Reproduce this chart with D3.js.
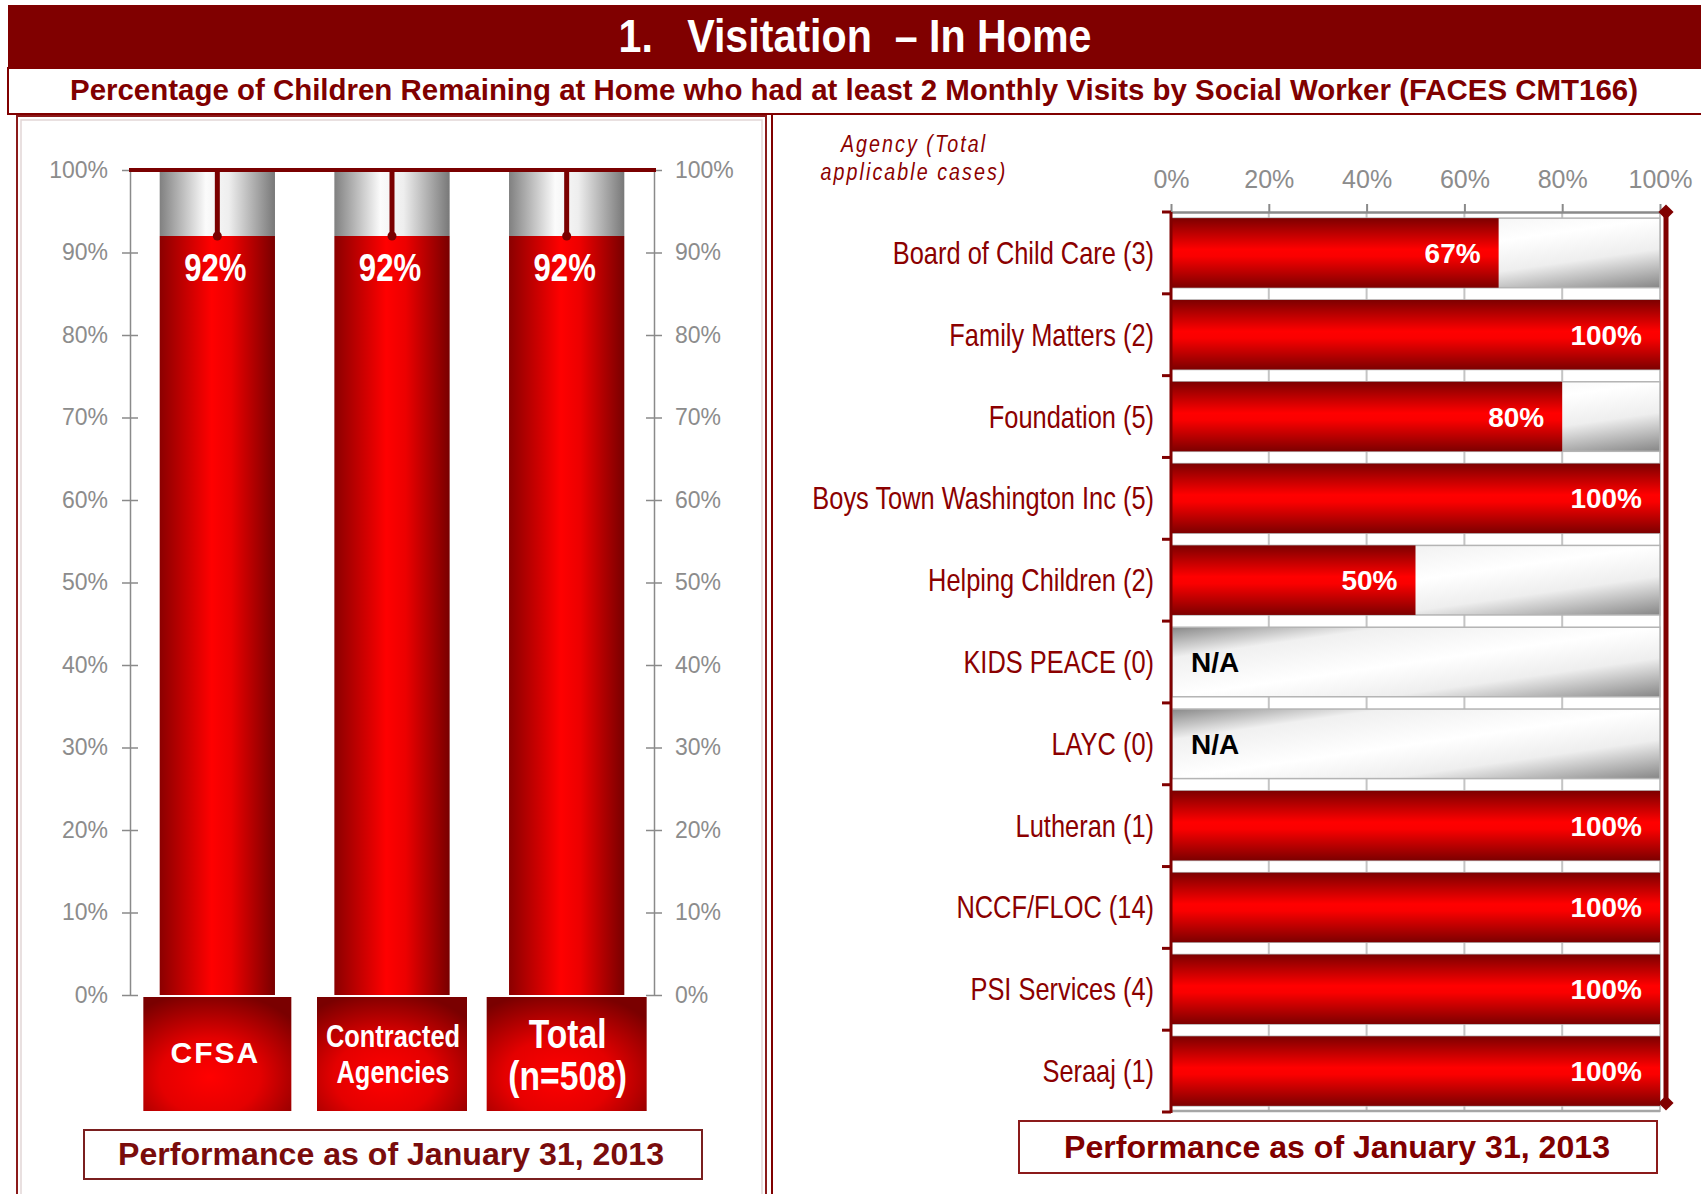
<!DOCTYPE html>
<html>
<head>
<meta charset="utf-8">
<script src="https://cdn.jsdelivr.net/npm/d3@7"></script>
<style>
  body { margin: 0; background: #fff; }
  svg { display: block; }
</style>
</head>
<body>
<div id="chart"></div>
<script>
// left chart data
const leftCategories = ["CFSA", "Contracted Agencies", "Total (n=508)"];
const leftLabelLines = [["CFSA"], ["Contracted", "Agencies"], ["Total", "(n=508)"]];
const leftValues = [92, 92, 92];
const leftTicks = [0, 10, 20, 30, 40, 50, 60, 70, 80, 90, 100];

// right chart data
const agencies = [
  "Board of Child Care (3)", "Family Matters (2)", "Foundation (5)",
  "Boys Town Washington Inc (5)", "Helping Children (2)", "KIDS PEACE (0)",
  "LAYC (0)", "Lutheran (1)", "NCCF/FLOC (14)", "PSI Services (4)", "Seraaj (1)"
];
const agencyValues = [67, 100, 80, 100, 50, null, null, 100, 100, 100, 100];
const rightTicks = [0, 20, 40, 60, 80, 100];

const title = "1.   Visitation  \u2013 In Home";
const subtitle = "Percentage of Children Remaining at Home who had at least 2 Monthly Visits by Social Worker (FACES CMT166)";
const footer = "Performance as of January 31, 2013";

const W = 1701, H = 1194;
const maroon = "#800000";
const sans = "'Liberation Sans', Arial, sans-serif";
const squeeze = 0.82; // no narrow font installed, so Liberation Sans is squeezed

const svg = d3.select("#chart").append("svg")
  .attr("width", W).attr("height", H);

// text drawn in a condensed look
const narrowText = (parent, x, y) => parent.append("text")
  .attr("transform", `translate(${x},${y}) scale(${squeeze},1)`)
  .style("font-family", sans);

// gradients
const defs = svg.append("defs");
const grad = (id, stops, x2, y2) => {
  const g = defs.append("linearGradient").attr("id", id)
    .attr("x1", 0).attr("y1", 0).attr("x2", x2).attr("y2", y2);
  stops.forEach(([o, c]) => g.append("stop").attr("offset", o).attr("stop-color", c));
};
grad("redH", [[0, "#8b0000"], [0.45, "#ff0000"], [0.62, "#ec0000"], [1, "#780000"]], 1, 0);
grad("grayH", [[0, "#808080"], [0.4, "#fbfbfb"], [0.6, "#eeeeee"], [1, "#787878"]], 1, 0);
grad("redV", [[0, "#7d0000"], [0.45, "#ff0000"], [0.55, "#fa0000"], [1, "#7d0000"]], 0, 1);
grad("grayDiag", [[0, "#888888"], [0.22, "#f0f0f0"], [0.5, "#ffffff"], [0.72, "#eeeeee"], [1, "#868686"]], 1, 1);
const rg = defs.append("radialGradient").attr("id", "boxRed")
  .attr("cx", 0.45).attr("cy", 0.7).attr("r", 0.75);
[[0, "#ff0000"], [0.45, "#e40000"], [1, "#7a0000"]]
  .forEach(([o, c]) => rg.append("stop").attr("offset", o).attr("stop-color", c));

// ---- header ----
svg.append("rect").attr("x", 8).attr("y", 5).attr("width", W - 8).attr("height", 63).attr("fill", maroon);
svg.append("text").attr("x", 855).attr("y", 52)
  .attr("text-anchor", "middle").style("white-space", "pre")
  .attr("textLength", 473).attr("lengthAdjust", "spacingAndGlyphs")
  .style("font-family", sans).style("font-weight", "bold").style("font-size", "46px")
  .attr("fill", "#fff").text(title);
svg.append("rect").attr("x", 8).attr("y", 68).attr("width", W - 7).attr("height", 46)
  .attr("fill", "#fff").attr("stroke", maroon).attr("stroke-width", 2);
svg.append("text").attr("x", 854).attr("y", 100)
  .attr("text-anchor", "middle")
  .attr("textLength", 1568).attr("lengthAdjust", "spacingAndGlyphs")
  .style("font-family", sans).style("font-weight", "bold").style("font-size", "29px")
  .attr("fill", maroon).text(subtitle);

// ---- panels ----
svg.append("rect").attr("x", 17).attr("y", 116).attr("width", 749).attr("height", 1100)
  .attr("fill", "#fff").attr("stroke", "#8b1a1a").attr("stroke-width", 2);
svg.append("rect").attr("x", 21).attr("y", 120).attr("width", 741).attr("height", 1100)
  .attr("fill", "none").attr("stroke", "#e2d6d6").attr("stroke-width", 1.5);
svg.append("line").attr("x1", 772).attr("x2", 772).attr("y1", 114).attr("y2", H)
  .attr("stroke", maroon).attr("stroke-width", 2);

// ---- left chart ----
const yL = d3.scaleLinear().domain([0, 100]).range([995, 170]);
const xL = d3.scaleBand().domain(leftCategories).range([130, 654])
  .paddingInner(0.34).paddingOuter(0.17);

const styleAxis = g => {
  g.select(".domain").attr("stroke", "#8a8a8a").attr("stroke-width", 1.5);
  g.selectAll(".tick line").attr("stroke", "#8a8a8a").attr("stroke-width", 1.5)
    .attr("x1", -8).attr("x2", 8);
  g.selectAll(".tick text").attr("fill", "#8c8c8c")
    .style("font-family", sans).style("font-size", "23px");
};
svg.append("g").attr("transform", "translate(130,0)")
  .call(d3.axisLeft(yL).tickValues(leftTicks).tickFormat(d => d + "%")
    .tickSize(8).tickSizeOuter(0).tickPadding(14))
  .call(styleAxis);
svg.append("g").attr("transform", "translate(654,0)")
  .call(d3.axisRight(yL).tickValues(leftTicks).tickFormat(d => d + "%")
    .tickSize(8).tickSizeOuter(0).tickPadding(13))
  .call(styleAxis);

const cx = d => xL(d) + xL.bandwidth() / 2;
const lbars = svg.append("g").selectAll("g").data(leftCategories).join("g");
lbars.append("rect")
  .attr("x", d => xL(d)).attr("width", xL.bandwidth())
  .attr("y", yL(100) + 2).attr("height", (d, i) => yL(leftValues[i]) - yL(100) - 2)
  .attr("fill", "url(#grayH)");
lbars.append("rect")
  .attr("x", d => xL(d)).attr("width", xL.bandwidth())
  .attr("y", (d, i) => yL(leftValues[i])).attr("height", (d, i) => yL(0) - yL(leftValues[i]))
  .attr("fill", "url(#redH)");
// target line at 100%
svg.append("line").attr("x1", 129).attr("x2", 656).attr("y1", yL(100)).attr("y2", yL(100))
  .attr("stroke", "#7a0000").attr("stroke-width", 4);
lbars.append("line")
  .attr("x1", cx).attr("x2", cx)
  .attr("y1", yL(100)).attr("y2", (d, i) => yL(leftValues[i]))
  .attr("stroke", "#7a0000").attr("stroke-width", 5);
lbars.append("circle")
  .attr("cx", cx).attr("cy", (d, i) => yL(leftValues[i]))
  .attr("r", 4.5).attr("fill", "#7a0000");
lbars.each(function (d, i) {
  narrowText(d3.select(this), cx(d) - 2, yL(leftValues[i]) + 45)
    .attr("text-anchor", "middle").attr("fill", "#fff")
    .style("font-weight", "bold").style("font-size", "38px")
    .text(leftValues[i] + "%");
});

// category boxes under the bars
const boxStyle = [
  { squeezed: false, size: 30, spacing: 2, lineH: 0, base: 1063 },
  { squeezed: true, size: 31, spacing: 0, lineH: 36, base: 1047 },
  { squeezed: true, size: 41, spacing: 0, lineH: 42, base: 1048 }
];
const boxW = [148, 150, 160];
lbars.append("rect")
  .attr("x", (d, i) => cx(d) - boxW[i] / 2).attr("width", (d, i) => boxW[i])
  .attr("y", yL(0) + 2).attr("height", 114)
  .attr("fill", "url(#boxRed)");
lbars.each(function (d, i) {
  const s = boxStyle[i];
  const t = (s.squeezed ? narrowText(d3.select(this), cx(d) + 1, 0)
    : d3.select(this).append("text").attr("transform", `translate(${cx(d) - 2},0)`).style("font-family", sans))
    .attr("text-anchor", "middle").attr("fill", "#fff")
    .style("font-weight", "bold").style("font-size", s.size + "px")
    .style("letter-spacing", s.spacing + "px");
  leftLabelLines[i].forEach((line, j) => {
    t.append("tspan").attr("x", 0).attr("y", s.base + j * s.lineH).text(line);
  });
});

// left footer
svg.append("rect").attr("x", 84).attr("y", 1130).attr("width", 618).attr("height", 49)
  .attr("fill", "#fff").attr("stroke", "#7a1f1f").attr("stroke-width", 2);
svg.append("text").attr("x", 391).attr("y", 1165).attr("text-anchor", "middle")
  .style("font-family", sans).style("font-weight", "bold").style("font-size", "31px")
  .attr("fill", "#7a0c0c").attr("textLength", 546).attr("lengthAdjust", "spacingAndGlyphs")
  .text(footer);

// ---- right chart ----
const xR = d3.scaleLinear().domain([0, 100]).range([1171, 1660]);
const yR = d3.scaleBand().domain(agencies).range([212, 1112])
  .paddingInner(0.15).paddingOuter(0.075);

// gridlines
svg.append("g").selectAll("line").data(rightTicks.slice(1)).join("line")
  .attr("x1", d => xR(d)).attr("x2", d => xR(d)).attr("y1", 212).attr("y2", 1112)
  .attr("stroke", "#c4c4c4").attr("stroke-width", 2);

// top axis
svg.append("g").attr("transform", "translate(0,212)")
  .call(d3.axisTop(xR).tickValues(rightTicks).tickFormat(d => d + "%")
    .tickSize(8).tickSizeOuter(0).tickPadding(16))
  .call(g => {
    g.select(".domain").attr("stroke", "#8a8a8a").attr("stroke-width", 2.5);
    g.selectAll(".tick line").attr("stroke", "#8a8a8a").attr("stroke-width", 2);
    g.selectAll(".tick text").attr("fill", "#8c8c8c")
      .style("font-family", sans).style("font-size", "25px");
  });
// bottom axis line
svg.append("line").attr("x1", xR(0)).attr("x2", xR(100)).attr("y1", 1111).attr("y2", 1111)
  .attr("stroke", "#a6a6a6").attr("stroke-width", 2.5);

const rows = svg.append("g").selectAll("g").data(agencies).join("g");
rows.append("rect")
  .attr("x", xR(0) + 1).attr("width", xR(100) - xR(0) - 1)
  .attr("y", d => yR(d)).attr("height", yR.bandwidth())
  .attr("fill", "url(#grayDiag)").attr("stroke", "#b4b4b4").attr("stroke-width", 1.5);
rows.filter((d, i) => agencyValues[i] !== null).append("rect")
  .attr("x", xR(0)).attr("width", d => xR(agencyValues[agencies.indexOf(d)]) - xR(0))
  .attr("y", d => yR(d)).attr("height", yR.bandwidth())
  .attr("fill", "url(#redV)");
rows.append("text")
  .attr("x", (d, i) => agencyValues[i] === null ? xR(0) + 20 : xR(agencyValues[i]) - 18)
  .attr("y", d => yR(d) + yR.bandwidth() / 2 + 10)
  .attr("text-anchor", (d, i) => agencyValues[i] === null ? "start" : "end")
  .attr("fill", (d, i) => agencyValues[i] === null ? "#000" : "#fff")
  .style("font-family", sans).style("font-weight", "bold").style("font-size", "28px")
  .text((d, i) => agencyValues[i] === null ? "N/A" : agencyValues[i] + "%");
// category labels
rows.each(function (d) {
  narrowText(d3.select(this), 1154, yR(d) + yR.bandwidth() / 2 + 11)
    .attr("text-anchor", "end").attr("fill", "#8b0000")
    .style("font-size", "31px")
    .text(d);
});

// dark red left axis with category ticks
const bounds = d3.range(agencies.length + 1).map(i => yR.range()[0] + i * yR.step());
svg.append("line").attr("x1", 1171).attr("x2", 1171).attr("y1", 212).attr("y2", 1113)
  .attr("stroke", maroon).attr("stroke-width", 3);
svg.append("g").selectAll("line").data(bounds).join("line")
  .attr("x1", 1162).attr("x2", 1171).attr("y1", d => d).attr("y2", d => d)
  .attr("stroke", maroon).attr("stroke-width", 3);

// dark red right line with diamonds
svg.append("line").attr("x1", 1666).attr("x2", 1666).attr("y1", 212).attr("y2", 1103)
  .attr("stroke", maroon).attr("stroke-width", 5);
svg.append("g").selectAll("path").data([212, 1103]).join("path")
  .attr("d", d3.symbol(d3.symbolSquare, 115))
  .attr("transform", d => `translate(1666,${d}) rotate(45)`)
  .attr("fill", maroon);

// agency header
const ah = narrowText(svg, 914, 0).attr("text-anchor", "middle").attr("fill", "#8b0000")
  .style("font-style", "italic").style("font-size", "24px")
  .style("letter-spacing", "2.5px");
ah.append("tspan").attr("x", 0).attr("y", 152).text("Agency (Total");
ah.append("tspan").attr("x", 0).attr("y", 180).text("applicable cases)");

// right footer
svg.append("rect").attr("x", 1019).attr("y", 1121).attr("width", 638).attr("height", 52)
  .attr("fill", "#fff").attr("stroke", "#8b1a1a").attr("stroke-width", 2);
svg.append("text").attr("x", 1337).attr("y", 1158).attr("text-anchor", "middle")
  .style("font-family", sans).style("font-weight", "bold").style("font-size", "32px")
  .attr("fill", "#800000").attr("textLength", 546).attr("lengthAdjust", "spacingAndGlyphs")
  .text(footer);
</script>
</body>
</html>
